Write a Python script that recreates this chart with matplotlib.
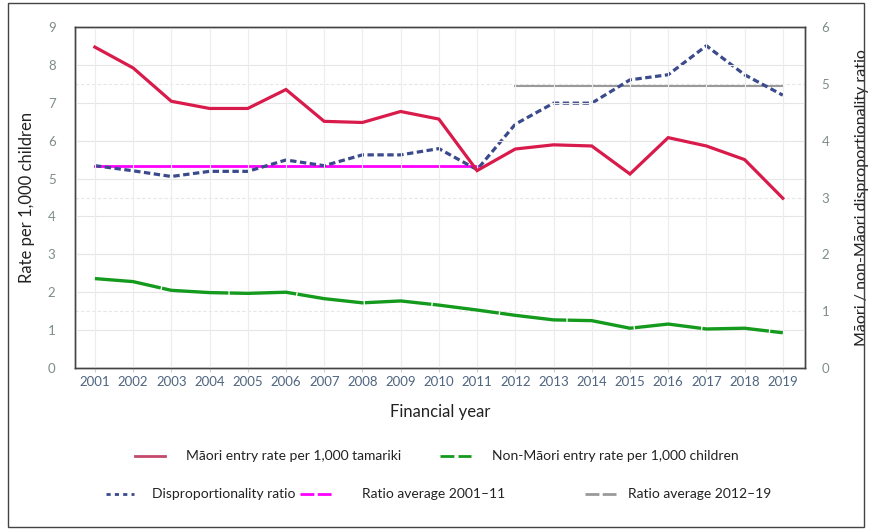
import matplotlib
matplotlib.use("Agg")
import matplotlib.pyplot as plt
from matplotlib.lines import Line2D
from matplotlib.patches import Rectangle

years = list(range(2001, 2020))
maori_rate = [8.47, 7.92, 7.04, 6.85, 6.85, 7.35, 6.51, 6.48, 6.77, 6.57,
              5.21, 5.78, 5.89, 5.86, 5.12, 6.08, 5.86, 5.50, 4.48]
non_maori_rate = [2.36, 2.28, 2.05, 1.99, 1.97, 2.00, 1.83, 1.72, 1.77, 1.66,
                  1.53, 1.39, 1.27, 1.25, 1.05, 1.16, 1.03, 1.05, 0.93]
ratio = [3.56, 3.47, 3.37, 3.46, 3.46, 3.66, 3.56, 3.75, 3.75, 3.86,
         3.49, 4.29, 4.66, 4.66, 5.07, 5.16, 5.67, 5.16, 4.80]
avg_2001_11 = 3.56
avg_2012_19 = 4.97
left_ticks = list(range(0, 10))
right_ticks = list(range(0, 7))

plt.rcParams['font.family'] = ['Lato', 'DejaVu Sans']

W, H = 872, 531
fig = plt.figure(figsize=(W / 100, H / 100), dpi=100)

def fx(px):
    return px / W

def fy(py):
    return 1 - py / H

ax = fig.add_axes([fx(75), fy(368), fx(805) - fx(75), fy(27) - fy(368)])
ax2 = ax.twinx()

ymax = 8.92
ax.set_ylim(0, ymax)
ax2.set_ylim(0, ymax / 1.5)
ax.set_xlim(2000.48, 2019.58)

# grid
for y in left_ticks:
    ax.axhline(y, color='#e6e6e6', lw=0.8, zorder=0)
for y in right_ticks:
    ax2.axhline(y, color='#e6e6e6', lw=0.8, ls=(0, (3, 2)), zorder=0)
for x in years:
    ax.axvline(x, color='#ececec', lw=0.8, zorder=0)

maori_c = '#d81b4b'
green_c = '#149a1c'
ratio_c = '#3a4a8c'
mag_c = '#ff00ff'
gray_c = '#9a9a9a'

ax.plot(years, maori_rate, color=maori_c, lw=2.3, zorder=5, solid_joinstyle='miter')
ax.plot(years, non_maori_rate, color=green_c, lw=2.4, zorder=5,
        ls=(0, (20, 0.4)))
ax2.plot(years[:11], [avg_2001_11] * 11, color=mag_c, lw=2.0, zorder=4)
ax2.plot(years[11:], [avg_2012_19] * 8, color=gray_c, lw=1.5, zorder=4)
ax2.plot(years, ratio, color=ratio_c, lw=2.3, ls=(0, (2.0, 1.1)), zorder=6)

ax.set_zorder(ax2.get_zorder() + 1)
ax.patch.set_visible(False)

for a in (ax, ax2):
    for s in a.spines.values():
        s.set_color('#444444')
        s.set_linewidth(1.0)

ax.set_yticks(left_ticks)
ax.set_yticklabels([str(v) for v in left_ticks])
ax2.set_yticks(right_ticks)
ax2.set_yticklabels([str(v) for v in right_ticks])
ax.set_xticks(years)
ax.set_xticklabels([str(y) for y in years])

tick_gray = '#7f8c8c'
ax.tick_params(axis='y', length=0, pad=14, labelsize=9.5, labelcolor=tick_gray)
ax2.tick_params(axis='y', length=0, pad=12, labelsize=9.5, labelcolor=tick_gray)
ax.tick_params(axis='x', length=3, color='#cccccc', pad=3, labelsize=9.5,
               labelcolor='#4f6580')

ax.set_ylabel('Rate per 1,000 children', fontsize=12, color='#222222')
ax2.set_ylabel('Māori / non-Māori disproportionality ratio', fontsize=11.5,
               color='#222222')
ax.yaxis.set_label_coords(-(75 - 35) / 730, 0.5)
ax2.yaxis.set_label_coords(1 + (855 - 805) / 730, 0.5)

fig.text(fx(440), fy(412), 'Financial year', ha='center', va='center',
         fontsize=12, color='#222222')

# legend (manual placement)
def leg(x0, x1, y, color, ls, lw, label, tx):
    fig.add_artist(Line2D([fx(x0), fx(x1)], [fy(y), fy(y)], color=color, ls=ls,
                          lw=lw, transform=fig.transFigure))
    fig.text(fx(tx), fy(y), label, ha='left', va='center', fontsize=10,
             color='#222222')

leg(135, 165, 456, '#c4496b', '-', 2.0, 'Māori entry rate per 1,000 tamariki', 186)
leg(440, 471, 456, green_c, (0, (5, 1.5)), 2.0, 'Non-Māori entry rate per 1,000 children', 492)
leg(106, 134, 494, ratio_c, (0, (1.5, 1.5)), 2.0, 'Disproportionality ratio', 152)
leg(300, 334, 494, mag_c, (0, (5, 1.2)), 2.0, 'Ratio average 2001–11', 362)
leg(585, 616, 494, gray_c, (0, (5, 1.2)), 2.0, 'Ratio average 2012–19', 628)

# outer border
fig.add_artist(Rectangle((fx(8), fy(527)), fx(864) - fx(8), fy(3) - fy(527),
                         fill=False, edgecolor='#444444', lw=1.0,
                         transform=fig.transFigure))

fig.savefig('out.png', dpi=100)
